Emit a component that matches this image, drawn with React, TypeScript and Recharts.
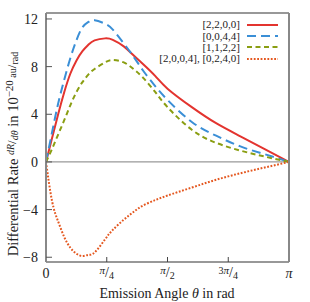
import { LineChart, Line, XAxis, YAxis, ReferenceLine, Legend } from 'recharts';

// angle in units of pi
const theta = [0, 0.025, 0.05, 0.075, 0.1, 0.125, 0.15, 0.175, 0.2, 0.243, 0.275, 0.32, 0.36, 0.4, 0.45, 0.5, 0.6, 0.7, 0.8, 0.9, 1];
const rate2200 = [0, 2.0, 4.0, 5.85, 7.4, 8.5, 9.3, 9.85, 10.2, 10.37, 10.25, 9.7, 8.95, 8.2, 7.2, 6.15, 4.6, 3.25, 2.15, 1.07, 0];
const rate0044 = [0, 2.5, 4.9, 6.9, 8.7, 10.2, 11.3, 11.75, 11.9, 11.6, 11.1, 9.95, 8.85, 7.65, 6.35, 5.2, 3.35, 2.2, 1.3, 0.65, 0];
const rate1122 = [0, 1.1, 2.3, 3.5, 4.75, 5.85, 6.7, 7.35, 7.8, 8.35, 8.55, 8.35, 7.8, 7.05, 5.85, 4.6, 2.7, 1.6, 0.95, 0.45, 0];
const rateMixed = [0, -3.3, -5.0, -6.3, -7.2, -7.7, -7.9, -7.8, -7.6, -6.5, -5.7, -4.85, -4.2, -3.65, -3.2, -2.82, -2.15, -1.5, -0.95, -0.47, 0];

const xTicks = [0, 0.25, 0.5, 0.75, 1];
const xTickLabels = ['0', 'π/4', 'π/2', '3π/4', 'π'];
const yTicks = [-8, -4, 0, 4, 8, 12];

const seriesKeys = ['a', 'b', 'c', 'd'];
const seriesNames = ['[2,2,0,0]', '[0,0,4,4]', '[1,1,2,2]', '[2,0,0,4], [0,2,4,0]'];
const seriesColors = ['#e3342f', '#3b8fd6', '#8a9e12', '#e4571f'];
const seriesDashes = ['', '9 5', '5 3.5', '1.8 1.6'];

const data = theta.map((t, i) => ({
  t,
  a: rate2200[i],
  b: rate0044[i],
  c: rate1122[i],
  d: rateMixed[i],
}));

const FONT = '"Liberation Serif", "DejaVu Serif", serif';

const XTick = (props: any) => {
  const { x, y, payload } = props;
  const idx = xTicks.indexOf(payload.value);
  const label = xTickLabels[idx] ?? '';
  if (!label.includes('/')) {
    return (
      <text x={x} y={y + 19} textAnchor="middle" fontFamily={FONT} fontSize={14} fill="#222" fontStyle={label === 'π' ? 'italic' : 'normal'}>
        {label}
      </text>
    );
  }
  const [num, den] = label.split('/');
  const coef = num.replace('π', '');
  return (
    <text x={x} y={y + 18} textAnchor="middle" fontFamily={FONT} fill="#222">
      {coef && <tspan fontSize={10} dy={-3}>{coef}</tspan>}
      <tspan fontSize={11} fontStyle="italic" dy={coef ? 0 : -3}>π</tspan>
      <tspan fontSize={14} dy={3}>/</tspan>
      <tspan fontSize={10} dy={2}>{den}</tspan>
    </text>
  );
};

const fmtY = (v: number) => (v < 0 ? '−' + Math.abs(v) : String(v));

const YLabel = () => (
  <text transform="rotate(-90)" x={-154} y={18} textAnchor="middle" fontFamily={FONT} fontSize={14.5} fill="#222">
    Differential Rate{' '}
    <tspan fontSize={10} dy={-4} fontStyle="italic">dR</tspan>
    <tspan fontSize={13} dy={2}>/</tspan>
    <tspan fontSize={10} dy={2} fontStyle="italic">dθ</tspan>
    <tspan fontSize={14.5} dy={0}> in 10</tspan>
    <tspan fontSize={11} dy={-5}>−20</tspan>
    <tspan fontSize={10} dy={3}> au</tspan>
    <tspan fontSize={13} dy={0}>/</tspan>
    <tspan fontSize={10} dy={2}>rad</tspan>
  </text>
);

const XLabel = () => (
  <text x={167} y={298} textAnchor="middle" fontFamily={FONT} fontSize={14} fill="#222">
    Emission Angle <tspan fontStyle="italic">θ</tspan> in rad
  </text>
);

const LegendBox = () => (
  <div style={{ fontFamily: FONT, fontSize: 11, color: '#222' }}>
    {seriesNames.map((name, i) => (
      <div key={name} style={{ height: 11.4, display: 'flex', alignItems: 'center', justifyContent: 'flex-end' }}>
        <span style={{ lineHeight: '11px', whiteSpace: 'nowrap' }}>{name}</span>
        <svg width={31} height={4} style={{ marginLeft: 7 }}>
          <line x1={0} y1={2} x2={31} y2={2} stroke={seriesColors[i]} strokeWidth={2} strokeDasharray={seriesDashes[i] || undefined} />
        </svg>
      </div>
    ))}
  </div>
);

export default function App() {
  return (
    <div style={{ position: 'fixed', left: 0, top: 0, background: '#fff' }}>
      <LineChart width={310} height={302} data={data} margin={{ top: 12, right: 20, bottom: 0, left: 0 }}>
        <XAxis
          dataKey="t"
          type="number"
          domain={[0, 1]}
          ticks={xTicks}
          tick={<XTick />}
          tickSize={-5}
          tickLine={{ stroke: '#444' }}
          axisLine={{ stroke: '#333', strokeWidth: 1.2 }}
          height={40}
          interval={0}
          label={<XLabel />}
        />
        <XAxis
          xAxisId="top"
          orientation="top"
          type="number"
          domain={[0, 1]}
          ticks={xTicks}
          tick={false}
          tickSize={-5}
          tickLine={{ stroke: '#444' }}
          axisLine={{ stroke: '#333', strokeWidth: 1.2 }}
          height={1}
        />
        <YAxis
          type="number"
          domain={[-8.4, 12.5]}
          ticks={yTicks}
          tickFormatter={fmtY}
          tick={{ fontFamily: FONT, fontSize: 14, fill: '#222' }}
          tickSize={-6}
          tickMargin={14}
          tickLine={{ stroke: '#555' }}
          axisLine={{ stroke: '#888', strokeWidth: 2 }}
          width={46}
          interval={0}
          allowDataOverflow
          label={<YLabel />}
        />
        <YAxis
          yAxisId="right"
          orientation="right"
          type="number"
          domain={[-8.4, 12.5]}
          ticks={yTicks}
          tick={false}
          tickSize={-6}
          tickLine={{ stroke: '#555' }}
          axisLine={{ stroke: '#888', strokeWidth: 2 }}
          width={1}
          allowDataOverflow
        />
        <ReferenceLine y={0} stroke="#999" strokeWidth={1.2} />
        {seriesKeys.map((k, i) => (
          <Line
            key={k}
            dataKey={k}
            name={seriesNames[i]}
            type="natural"
            stroke={seriesColors[i]}
            strokeWidth={2}
            strokeDasharray={seriesDashes[i] || undefined}
            dot={false}
            isAnimationActive={false}
          />
        ))}
        <Legend
          layout="vertical"
          align="center"
          verticalAlign="middle"
          content={<LegendBox />}
          wrapperStyle={{ position: 'absolute', left: 138, top: 19, width: 140, height: 46 }}
        />
      </LineChart>
    </div>
  );
}
